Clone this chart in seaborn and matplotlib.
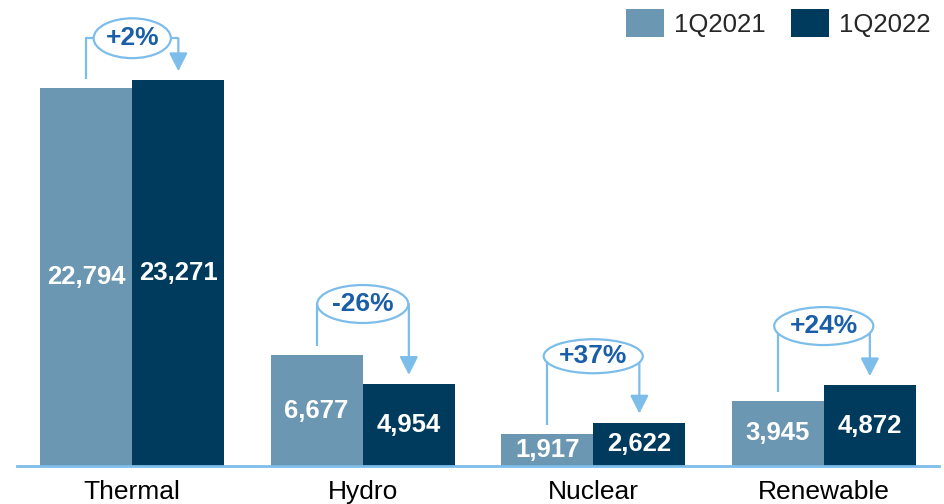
import seaborn as sns
import matplotlib.pyplot as plt
import pandas as pd
from matplotlib.patches import Ellipse, Patch

sources = ['Thermal', 'Hydro', 'Nuclear', 'Renewable']
periods = ['1Q2021', '1Q2022']
q2021 = [22794, 6677, 1917, 3945]
q2022 = [23271, 4954, 2622, 4872]
changes = ['+2%', '-26%', '+37%', '+24%']

# layout for the change bubbles (data units / category units)
bubble_y = [25800, 9770, 6620, 8440]
bubble_w = [0.335, 0.395, 0.43, 0.43]
bubble_h = [2400, 2290, 2050, 2290]

c21 = '#6C97B3'
c22 = '#003A5D'
cline = '#7DBDEA'
ctxt = '#1A5EA8'

df = pd.DataFrame({
    'source': sources * 2,
    'period': [periods[0]] * 4 + [periods[1]] * 4,
    'value': q2021 + q2022,
})

sns.set_theme(style='white')
plt.rcParams['font.family'] = ['Liberation Sans', 'DejaVu Sans']

fig = plt.figure(figsize=(9.45, 5.04), dpi=100)
ax = fig.add_axes([17/945, 38/504, 922/945, 466/504])

sns.barplot(data=df, x='source', y='value', hue='period', palette=[c21, c22],
            saturation=1, width=0.8, legend=False, linewidth=0, ax=ax)

ax.set_ylim(0, 28106)
ax.set_xlim(-0.5, 3.5)
for s in ['top', 'right', 'left']:
    ax.spines[s].set_visible(False)
ax.spines['bottom'].set_color(cline)
ax.spines['bottom'].set_linewidth(2)
ax.set_yticks([])
ax.set_xlabel('')
ax.set_ylabel('')
ax.tick_params(axis='x', length=0, pad=10, labelsize=19, colors='black')

px = 28106 / 466  # data units per pixel
for i in range(len(sources)):
    xl, xr = i - 0.2, i + 0.2
    ax.text(xl, q2021[i] / 2, f'{q2021[i]:,}', ha='center', va='center',
            color='white', fontsize=18.5, fontweight='bold')
    ax.text(xr, q2022[i] / 2, f'{q2022[i]:,}', ha='center', va='center',
            color='white', fontsize=18.5, fontweight='bold')
    yb = bubble_y[i]
    ax.plot([xl, xl, xr], [q2021[i] + 9 * px, yb, yb], color=cline, lw=1.6,
            solid_capstyle='butt', zorder=3)
    ax.annotate('', xy=(xr, q2022[i] + 9 * px), xytext=(xr, yb),
                arrowprops=dict(arrowstyle='-|>,head_length=0.55,head_width=0.28',
                                mutation_scale=20, color=cline, lw=1.6,
                                shrinkA=0, shrinkB=0), zorder=3)
    ax.add_patch(Ellipse((i, yb), bubble_w[i], bubble_h[i], facecolor='white',
                         edgecolor=cline, lw=1.6, zorder=4))
    ax.text(i, yb, changes[i], ha='center', va='center', color=ctxt,
            fontsize=19, fontweight='bold', zorder=5)

handles = [Patch(facecolor=c21, edgecolor='none'), Patch(facecolor=c22, edgecolor='none')]
fig.legend(handles, periods, loc='upper right', bbox_to_anchor=(0.985, 0.982),
           ncol=2, frameon=False, fontsize=18.5, handlelength=1.48, handleheight=1.3,
           handletextpad=0.42, columnspacing=0.95, borderpad=0, borderaxespad=0)

plt.savefig('out.png', dpi=100)
